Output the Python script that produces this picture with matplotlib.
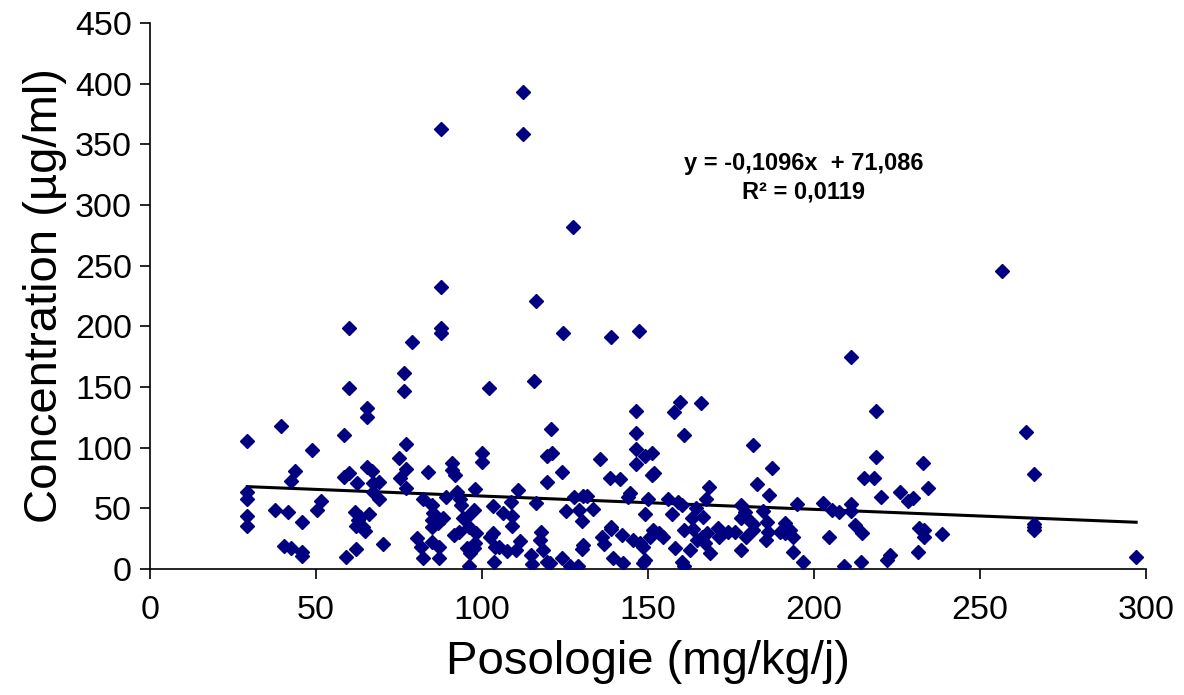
import numpy as np
import matplotlib.pyplot as plt

plt.rcParams['font.family'] = ['Liberation Sans', 'DejaVu Sans']

# posologie (mg/kg/j) et concentration (µg/ml)
posologie = [
    60.0, 60.0, 65.3, 65.3, 39.5, 29.3, 58.5, 48.9, 43.7, 42.5,
    58.5, 60.0, 62.3, 65.5, 67.0, 67.3, 69.0, 67.3, 69.0, 29.3,
    29.3, 29.3, 29.3, 37.7, 41.7, 45.9, 50.2, 51.5, 40.5, 42.5,
    45.7, 45.9, 58.9, 62.0, 70.3, 61.7, 63.3, 66.0, 62.0, 64.2,
    64.8, 62.7,
    116.1, 87.6, 87.6, 78.9, 124.3, 138.8, 76.6, 76.6, 102.2, 115.7,
    120.9, 77.1, 75.0, 77.1, 75.4, 77.1, 83.7, 91.1, 90.9, 91.9,
    100.1, 100.1, 119.5, 121.2, 124.0, 135.5, 138.6, 141.4, 119.7, 92.4,
    98.0, 110.9, 82.1, 89.1, 93.4, 84.8, 93.7, 97.6, 103.2, 108.7,
    116.2, 127.8, 130.5, 131.5, 133.5, 125.2, 129.3, 130.0, 85.3, 85.0,
    88.3, 86.8, 85.0, 94.4, 95.6, 96.2, 106.4, 108.9, 109.1, 103.4,
    102.4, 103.9, 91.6, 93.2, 98.1, 97.9, 97.6, 80.3, 81.5, 84.8,
    87.1, 82.1, 87.1, 95.6, 96.4, 96.2, 103.6, 105.1, 107.4, 110.2,
    111.4, 114.8, 114.9, 117.8, 117.5, 118.5, 119.5, 120.5, 124.0, 126.5,
    129.0, 130.3, 130.0, 136.0, 136.7, 138.9, 138.9, 142.1, 142.6, 139.5,
    87.6, 112.2, 112.2, 127.3, 87.6,
    147.4, 211.1, 146.4, 146.4, 146.4, 149.1, 151.3, 146.4, 151.1, 151.8,
    157.9, 159.6, 166.0, 160.8, 181.5, 187.2, 182.9, 186.4, 168.5, 144.6,
    144.1, 150.1, 156.1, 159.1, 160.1, 167.5, 149.1, 157.3, 164.5, 163.2,
    166.5, 163.6, 177.9, 179.2, 177.9, 179.5, 184.7, 194.8, 202.8, 205.5,
    207.6, 211.1, 211.0, 145.6, 147.6, 148.4, 150.6, 151.6, 153.4, 154.6,
    148.4, 149.1, 158.1, 160.1, 160.8, 160.8, 162.7, 164.7, 166.2, 167.2,
    167.9, 168.7, 171.2, 171.4, 174.2, 176.2, 177.9, 179.5, 181.5, 181.7,
    185.7, 186.2, 185.4, 189.8, 191.1, 191.3, 192.8, 193.8, 193.8, 196.6,
    204.6, 209.0, 212.3, 214.5, 214.1, 214.9,
    218.6, 218.6, 218.1, 220.2, 225.9, 228.4, 229.9, 232.7, 234.4, 231.7,
    233.1, 233.1, 238.5, 231.4, 221.9, 222.9, 256.6, 263.9, 266.3, 266.3,
    266.3, 266.3, 297.0,
]
concentration = [
    198.4, 148.9, 132.4, 125.0, 118.1, 105.7, 110.7, 98.1, 80.8, 72.5,
    76.1, 78.9, 71.1, 84.3, 81.0, 70.6, 72.0, 63.7, 57.4, 63.7,
    57.7, 43.7, 35.7, 48.6, 47.2, 38.5, 48.6, 56.3, 19.0, 17.6,
    14.3, 10.7, 10.1, 16.5, 20.3, 47.2, 43.1, 45.0, 35.4, 34.9,
    31.3, 40.4,
    220.9, 198.9, 194.2, 187.4, 194.2, 191.5, 161.8, 146.7, 148.9, 155.2,
    115.4, 103.0, 91.2, 82.4, 74.8, 66.5, 79.7, 87.1, 81.6, 77.5,
    95.4, 88.0, 93.1, 95.9, 79.7, 90.7, 74.8, 74.2, 72.0, 63.7,
    65.7, 65.1, 57.4, 59.1, 57.4, 52.7, 52.7, 48.6, 52.2, 55.5,
    54.6, 59.6, 60.2, 60.2, 49.5, 47.8, 48.6, 39.6, 45.9, 40.4,
    41.8, 38.2, 34.9, 41.8, 43.1, 34.9, 45.9, 43.7, 35.4, 29.4,
    26.1, 18.4, 28.0, 30.7, 29.4, 21.2, 17.1, 25.3, 18.4, 22.0,
    18.4, 9.3, 9.3, 17.1, 13.0, 2.5, 6.0, 18.4, 15.1, 15.7,
    23.4, 11.5, 4.1, 30.7, 23.9, 15.7, 6.0, 4.7, 9.3, 2.5,
    2.5, 19.8, 16.2, 26.6, 20.3, 32.7, 34.9, 28.0, 4.7, 8.8,
    362.4, 393.4, 358.5, 281.6, 232.2,
    196.2, 175.0, 130.5, 111.8, 98.7, 93.4, 95.9, 86.3, 77.5, 78.9,
    129.6, 137.9, 136.6, 110.4, 102.2, 83.5, 69.8, 61.0, 67.3, 62.4,
    59.6, 57.4, 57.4, 55.5, 52.7, 57.4, 45.0, 45.0, 50.0, 41.8,
    42.6, 32.7, 52.7, 47.2, 41.8, 43.1, 48.1, 53.3, 54.1, 48.6,
    47.2, 53.6, 48.1, 23.9, 21.2, 18.4, 26.6, 32.1, 29.4, 26.1,
    4.7, 7.4, 17.1, 6.0, 2.7, 32.1, 15.7, 23.9, 26.6, 21.2,
    29.4, 12.9, 33.5, 26.1, 30.2, 30.2, 15.7, 26.1, 37.1, 32.1,
    39.0, 30.7, 23.9, 30.2, 37.7, 29.4, 32.1, 26.1, 14.3, 5.5,
    26.1, 2.7, 36.3, 29.4, 6.0, 74.8,
    130.5, 92.1, 74.8, 59.6, 63.7, 56.0, 58.3, 87.1, 67.0, 33.5,
    32.1, 26.1, 28.6, 13.8, 7.4, 11.5, 245.6, 113.2, 78.3, 37.0,
    34.5, 32.0, 10.1,
]

pente = -0.1096
origine = 71.086
equation = "y = -0,1096x  + 71,086\nR² = 0,0119"

x_ticks = [0, 50, 100, 150, 200, 250, 300]
y_ticks = [0, 50, 100, 150, 200, 250, 300, 350, 400, 450]

fig = plt.figure(figsize=(11.84, 6.95), dpi=100)
ax = fig.add_axes([0.1267, 0.1813, 0.8413, 0.7856])

ax.plot(posologie, concentration, linestyle='none', marker='D', markersize=6.8,
        color='#000080', zorder=3)

xs = np.array([min(posologie), max(posologie)])
ax.plot(xs, pente * xs + origine, color='black', linewidth=2.2, zorder=2)

ax.text(0.656, 0.716, equation, transform=ax.transAxes, ha='center', va='center',
        fontsize=17, fontweight='bold', linespacing=1.3)

ax.set_xlim(0, 300)
ax.set_ylim(0, 450)
ax.set_xticks(x_ticks)
ax.set_yticks(y_ticks)
ax.tick_params(axis='both', labelsize=24.5, direction='out', length=7, width=1.2, colors='black')
ax.tick_params(axis='x', pad=12)
ax.tick_params(axis='y', pad=6)

for side in ['top', 'right']:
    ax.spines[side].set_visible(False)
for side in ['left', 'bottom']:
    ax.spines[side].set_linewidth(1.2)

ax.set_xlabel('Posologie (mg/kg/j)', fontsize=34, labelpad=10)
ax.set_ylabel('Concentration (µg/ml)', fontsize=34, labelpad=6)

fig.savefig('out.png', dpi=100)
